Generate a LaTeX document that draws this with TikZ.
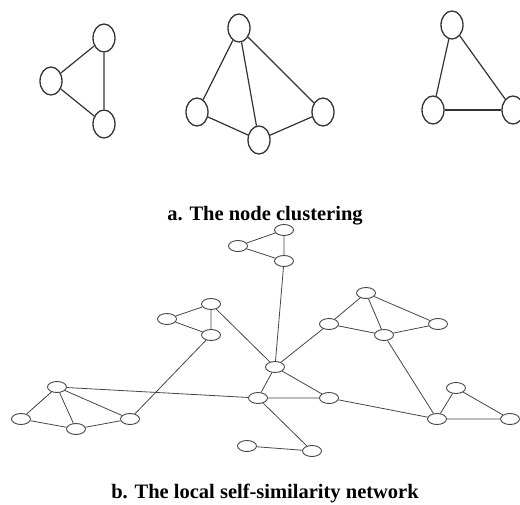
\documentclass[tikz,border=0pt]{standalone}
\usepackage{fontspec}
\setmainfont{Liberation Serif}
\usetikzlibrary{shapes.geometric}
\begin{document}
\begin{tikzpicture}[x=1pt,y=-1pt,
  bignode/.style={ellipse,draw=black!80,line width=1.3pt,fill=white,minimum width=22pt,minimum height=28pt,inner sep=0pt},
  smallnode/.style={ellipse,draw=black!72,line width=0.9pt,fill=white,minimum width=19pt,minimum height=11pt,inner sep=0pt},
  bigedge/.style={draw=black!80,line width=1.2pt},
  smalledge/.style={draw=black!72,line width=0.8pt},
  captiontext/.style={font=\bfseries\fontsize{20.5}{24}\selectfont,anchor=base,inner sep=0pt}]
\useasboundingbox (0,0) rectangle (520,504);
\clip (0,0) rectangle (520,504);
% ---- part a ----
\node[bignode] (g1t) at (104,38) {};
\node[bignode] (g1l) at (51,81) {};
\node[bignode] (g1b) at (104,124) {};
\node[bignode] (g2t) at (239,28) {};
\node[bignode] (g2l) at (197,112) {};
\node[bignode] (g2b) at (259,140) {};
\node[bignode] (g2r) at (323,112) {};
\node[bignode] (g3t) at (452,25) {};
\node[bignode] (g3l) at (433,110) {};
\node[bignode] (g3r) at (513,110) {};
\draw[bigedge] (g1t) -- (g1l) (g1l) -- (g1b) (g1t) -- (g1b);
\draw[bigedge] (g2t) -- (g2l) (g2t) -- (g2b) (g2t) -- (g2r) (g2l) -- (g2b) (g2b) -- (g2r);
\draw[bigedge] (g3t) -- (g3l) (g3t) -- (g3r);
\draw[bigedge,line width=2pt] (g3l) -- (g3r);
\node[captiontext] (capa) at (265,220) {a. The node clustering};
% ---- part b ----
\node[smallnode] (t1) at (238,246) {};
\node[smallnode] (t2) at (284,230) {};
\node[smallnode] (t3) at (284,261) {};
\node[smallnode] (a1) at (167,319) {};
\node[smallnode] (a2) at (211,304) {};
\node[smallnode] (a3) at (211,335) {};
\node[smallnode] (h) at (275,367) {};
\node[smallnode] (r1) at (329,324) {};
\node[smallnode] (rt) at (366,293) {};
\node[smallnode] (rb) at (384,335) {};
\node[smallnode] (rr) at (438,324) {};
\node[smallnode] (m) at (258,398) {};
\node[smallnode] (n) at (329,398) {};
\node[smallnode] (b1) at (247,446) {};
\node[smallnode] (b2) at (312,451) {};
\node[smallnode] (l1) at (57,387) {};
\node[smallnode] (l2) at (21,419) {};
\node[smallnode] (l3) at (76,429) {};
\node[smallnode] (l4) at (130,419) {};
\node[smallnode] (f1) at (437,419) {};
\node[smallnode] (f2) at (456,388) {};
\node[smallnode] (f3) at (510,419) {};
\draw[smalledge] (t1) -- (t2) (t1) -- (t3) (t2) -- (t3) (t3) -- (h);
\draw[smalledge] (a1) -- (a2) (a1) -- (a3) (a2) -- (a3) (a2) -- (h) (a3) -- (l4);
\draw[smalledge] (h) -- (r1) (h) -- (m) (h) -- (n) (m) -- (n) (m) -- (b2) (b1) -- (b2);
\draw[smalledge] (r1) -- (rt) (r1) -- (rb) (rt) -- (rb) (rt) -- (rr) (rb) -- (rr) (rb) -- (f1);
\draw[smalledge] (n) -- (f1) (f1) -- (f2) (f2) -- (f3) (f1) -- (f3);
\draw[smalledge] (l1) -- (l2) (l1) -- (l3) (l1) -- (l4) (l2) -- (l3) (l3) -- (l4) (l1) -- (m);
\node[captiontext] (capb) at (265,498) {b. The local self-similarity network};
\end{tikzpicture}
\end{document}
